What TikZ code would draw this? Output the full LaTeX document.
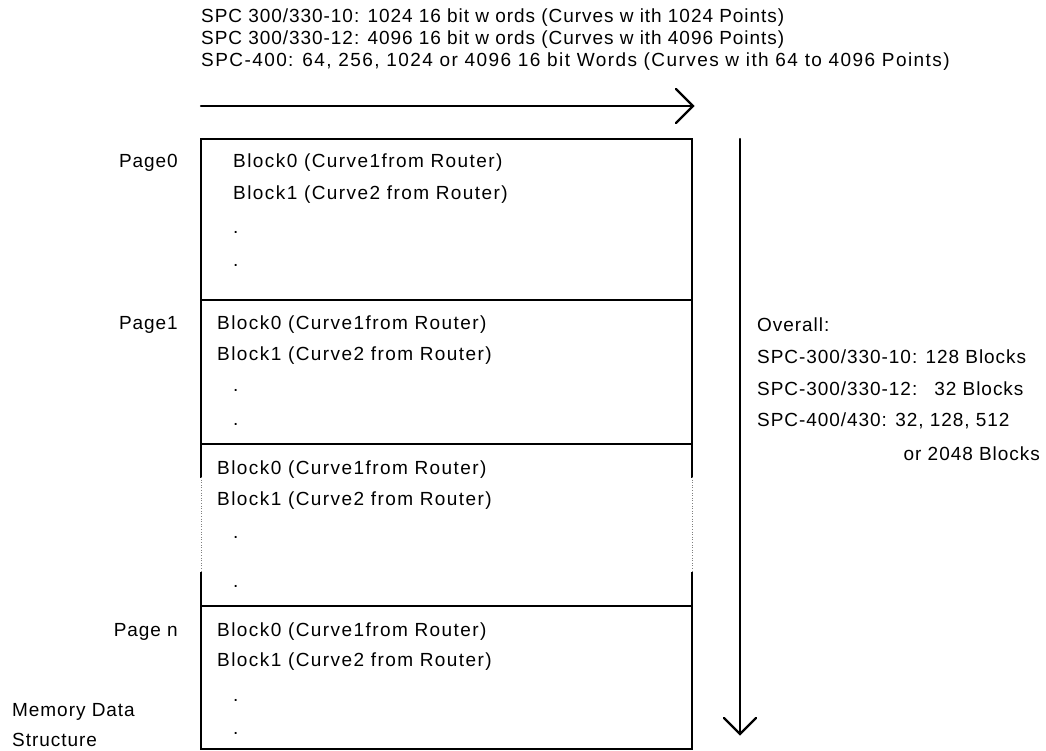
\documentclass[tikz,border=0pt]{standalone}
\usepackage{fontspec}
\setmainfont{Liberation Sans}[LetterSpace=5]
\begin{document}
\begin{tikzpicture}[x=1pt,y=-1pt,
  txt/.style={anchor=west,inner sep=0pt,font=\fontsize{19}{22}\selectfont},
  wtxt/.style={txt,font=\fontsize{19}{22}\selectfont\addfontfeature{LetterSpace=7.5}},
  rtxt/.style={anchor=east,inner sep=0pt,font=\fontsize{19}{22}\selectfont},
  frame/.style={line width=2.6pt,line cap=rect},
  faint/.style={line width=0.6pt,gray,dotted},
  arr/.style={line width=2.2pt,line cap=round,line join=miter}]
\useasboundingbox (0,0) rectangle (1046,751);
% top texts
\node[txt] (t1) at (201,18) {SPC 300/330-10: 1024 16 bit w ords (Curves w ith 1024 Points)};
\node[txt] (t2) at (201,40) {SPC 300/330-12: 4096 16 bit w ords (Curves w ith 4096 Points)};
\node[wtxt] (t3) at (201,62) {SPC-400: 64, 256, 1024 or 4096 16 bit Words (Curves w ith 64 to 4096 Points)};
% horizontal arrow
\coordinate (hs) at (201,106);
\coordinate (he) at (693,106);
\draw[arr] (hs) -- (he);
\draw[arr] (676,89) -- (he) -- (676,123);
% vertical arrow
\coordinate (vs) at (740,139);
\coordinate (ve) at (740,734);
\draw[arr] (vs) -- (ve);
\draw[arr] (724,718) -- (ve) -- (756,718);
% frame
\draw[frame] (201,477) -- (201,139) -- (692,139) -- (692,477);
\draw[frame] (201,573) -- (201,749) -- (692,749) -- (692,573);
\draw[faint] (201,477) -- (201,573);
\draw[faint] (692,477) -- (692,573);
\draw[frame] (201,300) -- (692,300);
\draw[frame] (201,444) -- (692,444);
\draw[frame] (201,606) -- (692,606);
% page labels
\node[rtxt] (p0) at (178,163) {Page0};
\node[rtxt] (p1) at (178,325) {Page1};
\node[rtxt] (pn) at (178,632) {Page n};
\node[txt] (m1) at (12,712) {Memory Data};
\node[txt] (m2) at (12,740) {Structure};
% page 0
\node[wtxt] (a0) at (233,163) {Block0 (Curve1from Router)};
\node[wtxt] (a1) at (233,195) {Block1 (Curve2 from Router)};
\node[txt] (a2) at (233,232) {.};
\node[txt] (a3) at (233,265) {.};
% page 1
\node[wtxt] (b0) at (217,325) {Block0 (Curve1from Router)};
\node[wtxt] (b1) at (217,356) {Block1 (Curve2 from Router)};
\node[txt] (b2) at (233,390) {.};
\node[txt] (b3) at (233,424) {.};
% page 2
\node[wtxt] (c0) at (217,470) {Block0 (Curve1from Router)};
\node[wtxt] (c1) at (217,501) {Block1 (Curve2 from Router)};
\node[txt] (c2) at (233,537) {.};
\node[txt] (c3) at (233,586) {.};
% page n
\node[wtxt] (d0) at (217,632) {Block0 (Curve1from Router)};
\node[wtxt] (d1) at (217,662) {Block1 (Curve2 from Router)};
\node[txt] (d2) at (233,700) {.};
\node[txt] (d3) at (233,733) {.};
% overall
\node[txt] (o0) at (757,325) {Overall:};
\node[txt] (o1) at (757,357) {SPC-300/330-10: 128 Blocks};
\node[txt] (o2) at (757,389) {SPC-300/330-12:\hspace{0.9em}32 Blocks};
\node[txt] (o3) at (757,421) {SPC-400/430: 32, 128, 512};
\node[rtxt] (o4) at (1040,454) {or 2048 Blocks};
\end{tikzpicture}
\end{document}
